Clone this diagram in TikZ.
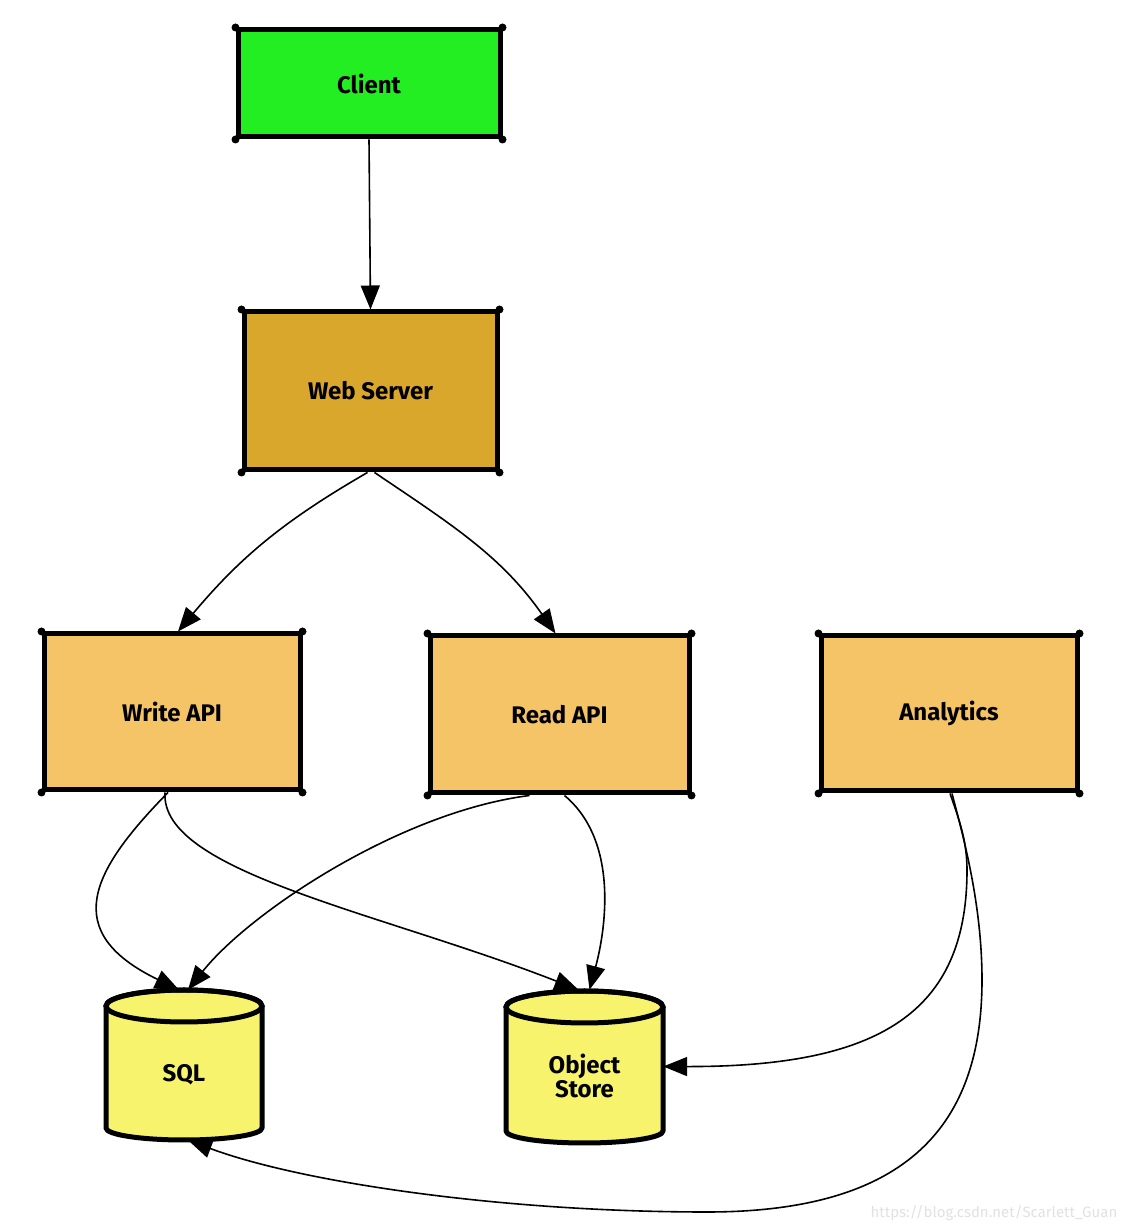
\documentclass[tikz,border=0pt]{standalone}
\usepackage{fontspec}
\setmainfont{Fira Sans}
\usetikzlibrary{arrows.meta}
\definecolor{clientgreen}{HTML}{22EE22}
\definecolor{webgold}{HTML}{D9A72C}
\definecolor{apiorange}{HTML}{F5C466}
\definecolor{dbyellow}{HTML}{F7F36C}
\definecolor{wmgray}{HTML}{E2E2E2}
\tikzset{
  box/.style={draw=black, line width=5pt, rectangle, inner sep=0pt,
    font=\fontsize{24}{28}\selectfont\bfseries},
  conn/.style={draw=black, line width=1.6pt, -{Triangle[length=24pt,width=19pt]}},
  dblabel/.style={font=\fontsize{24}{28}\selectfont\bfseries, align=center},
  dbbody/.style={fill=dbyellow, draw=black, line width=5pt, line join=round},
  anchorbox/.style={rectangle, inner sep=0pt}
}
\begin{document}
\begin{tikzpicture}[x=1pt,y=1pt]
\useasboundingbox[fill=white] (0,0) rectangle (1126,1232);

% boxes
\node[box, fill=clientgreen, minimum width=262pt, minimum height=107pt] (client) at (369,1148.5) {Client};
\node[box, fill=webgold, minimum width=253pt, minimum height=158pt] (web) at (370.5,841) {Web Server};
\node[box, fill=apiorange, minimum width=256pt, minimum height=156pt] (write) at (172,520) {Write API};
\node[box, fill=apiorange, minimum width=259pt, minimum height=157pt] (read) at (559.5,517.5) {Read API};
\node[box, fill=apiorange, minimum width=256pt, minimum height=155pt] (analytics) at (949,518.5) {Analytics};

\foreach \n in {client,web,write,read,analytics}{
  \fill (\n.north west) circle (4);
  \fill (\n.north east) circle (4);
  \fill (\n.south west) circle (4);
  \fill (\n.south east) circle (4);
}

% cylinders
\path[dbbody] (106,226) -- (106,104) arc[start angle=180,end angle=360,x radius=78,y radius=12]
  -- (262,226) arc[start angle=0,end angle=180,x radius=78,y radius=16] -- cycle;
\draw[line width=5pt] (184,226) ellipse[x radius=78,y radius=16];
\node[anchorbox, minimum width=156pt, minimum height=150pt] (sql) at (184,167) {};
\node[dblabel] (sqltext) at (184,157) {SQL};

\path[dbbody] (506,225) -- (506,101) arc[start angle=180,end angle=360,x radius=78.5,y radius=12]
  -- (663,225) arc[start angle=0,end angle=180,x radius=78.5,y radius=16] -- cycle;
\draw[line width=5pt] (584.5,225) ellipse[x radius=78.5,y radius=16];
\node[anchorbox, minimum width=157pt, minimum height=153pt] (obj) at (584.5,165.5) {};
\node[dblabel] (objtext) at (584.5,156) {Object\\[-4pt]Store};

% connectors
\draw[conn] (client.south) -- (web.north);
\draw[conn] ([xshift=-3pt]web.south) to[out=-150,in=50] ([xshift=6pt]write.north);
\draw[conn] ([xshift=4pt]web.south) to[out=-34,in=125] ([xshift=-4pt]read.north);

\draw[conn] ([xshift=-4pt]write.south) .. controls (90,360) and (60,300) .. ([xshift=-5pt]sql.north);
\draw[conn] ([xshift=-7pt]write.south) .. controls (160,360) and (380,320) .. ([xshift=-6pt]obj.north);
\draw[conn] ([xshift=-30pt]read.south) .. controls (400,420) and (250,320) .. ([xshift=4pt]sql.north);
\draw[conn] ([xshift=5pt]read.south) .. controls (620,390) and (605,300) .. ([xshift=5pt]obj.north);

\draw[conn] ([xshift=1pt]analytics.south) .. controls (960,410) and (967,390) .. (967,362)
  .. controls (967,220) and (880,165) .. (obj.east);
\draw[conn] ([xshift=3pt]analytics.south) .. controls (962,400) and (982,330) .. (982,252)
  .. controls (982,100) and (900,20) .. (707,20)
  .. controls (500,20) and (300,50) .. ([xshift=4pt]sql.south);

% watermark
\node[font=\fontsize{15}{17}\selectfont, text=wmgray] (wm) at (994,19) {https://blog.csdn.net/Scarlett\_Guan};
\end{tikzpicture}
\end{document}
